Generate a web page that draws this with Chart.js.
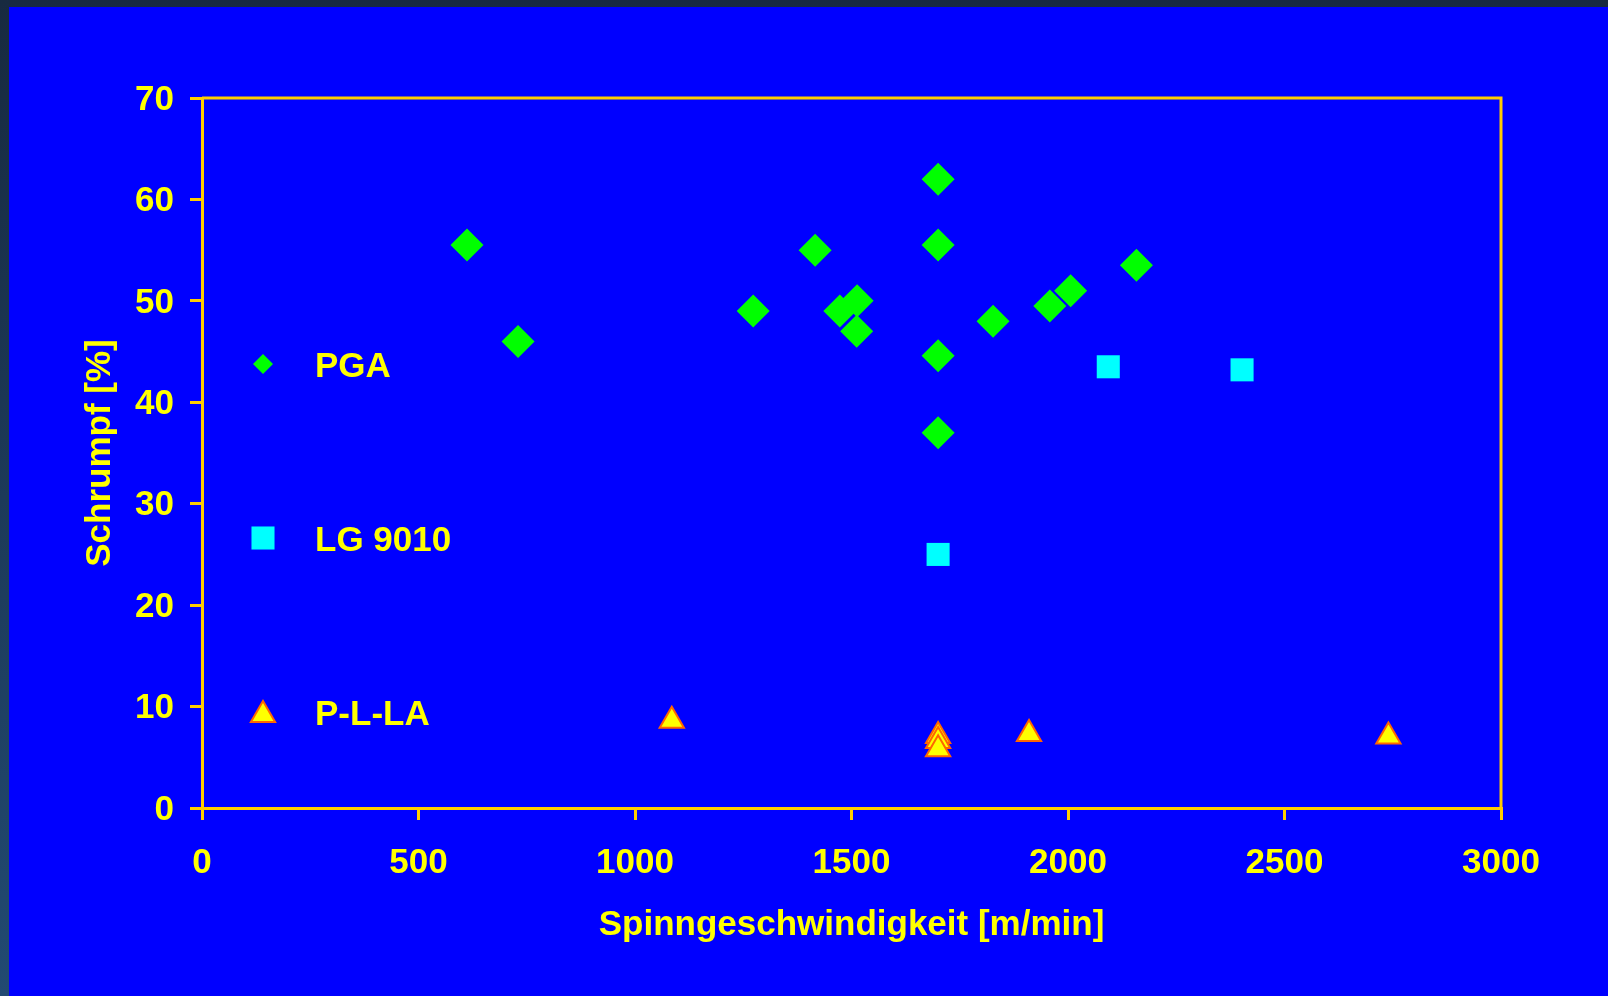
<!DOCTYPE html>
<html>
<head>
<meta charset="utf-8">
<script src="https://cdn.jsdelivr.net/npm/chart.js@4/dist/chart.umd.min.js"></script>
<style>
    html, body {
        margin: 0;
        padding: 0;
        width: 1608px;
        height: 996px;
        overflow: hidden;
        background: linear-gradient(#182a40, #224a72);
    }
    #wrap {
        position: absolute;
        left: 9px;
        top: 7px;
        width: 1599px;
        height: 989px;
        background: #0000ff;
    }
</style>
</head>
<body>
<div id="wrap"><canvas id="chart"></canvas></div>
<script>
// Spinngeschwindigkeit [m/min] / Schrumpf [%]
const pgaX = [612, 730, 1273, 1416, 1473, 1513, 1512, 1700, 1700, 1700, 1700, 1827, 1958, 2006, 2158];
const pgaY = [55.5, 46, 49, 55, 49, 50, 47, 62, 55.5, 44.6, 37, 48, 49.5, 51, 53.5];

const lgX = [1700, 2093, 2402];
const lgY = [25, 43.5, 43.2];

const pllaX = [1085, 1700, 1700, 1700, 1910, 2740];
const pllaY = [8.6, 7.1, 6.6, 5.8, 7.3, 7.05];

const xTicks = [0, 500, 1000, 1500, 2000, 2500, 3000];
const yTicks = [0, 10, 20, 30, 40, 50, 60, 70];

const gold = "#ffcc00";
const yellow = "#ffff00";
const font = { family: "'Liberation Sans', Arial, sans-serif", size: 35, weight: "bold" };

let toPoints = (xs, ys) => xs.map((x, i) => ({ x: x, y: ys[i] }));

// legend drawn inside the plot area, one row per series
const insideLegend = {
    id: "insideLegend",
    afterDraw(chart) {
        const { ctx, chartArea } = chart;
        const rows = [
            { label: "PGA", style: "rectRot", radius: 10, fill: "#00ff00", border: "#00ff00", bw: 0, dy: 266, my: 266 },
            { label: "LG 9010", style: "rect", radius: 16.3, fill: "#00ffff", border: "#00ffff", bw: 0, dy: 440, my: 440 },
            { label: "P-L-LA", style: "triangle", radius: 14, fill: yellow, border: "#ff6600", bw: 2, dy: 614, my: 617 }
        ];
        ctx.save();
        rows.forEach(r => {
            const x = chartArea.left + 61;
            ctx.fillStyle = r.fill;
            ctx.strokeStyle = r.border;
            ctx.lineWidth = r.bw;
            Chart.helpers.drawPoint(ctx, {
                pointStyle: r.style,
                radius: r.radius,
                rotation: 0,
                borderWidth: r.bw
            }, x, chartArea.top + r.my);
            ctx.fillStyle = yellow;
            ctx.font = "bold 35px 'Liberation Sans', Arial, sans-serif";
            ctx.textAlign = "left";
            ctx.textBaseline = "middle";
            ctx.fillText(r.label, x + 52, chartArea.top + r.dy + 3);
        });
        ctx.restore();
    }
};

// top and right edges of the plot frame
const plotFrame = {
    id: "plotFrame",
    beforeDatasetsDraw(chart) {
        const { ctx, chartArea } = chart;
        ctx.save();
        ctx.strokeStyle = gold;
        ctx.lineWidth = 3;
        ctx.beginPath();
        ctx.moveTo(chartArea.left, chartArea.top);
        ctx.lineTo(chartArea.right, chartArea.top);
        ctx.lineTo(chartArea.right, chartArea.bottom);
        ctx.stroke();
        ctx.restore();
    }
};

const chartData = {
    datasets: [
        {
            label: "PGA",
            data: toPoints(pgaX, pgaY),
            pointStyle: "rectRot",
            pointRadius: 16.5,
            backgroundColor: "#00ff00",
            borderColor: "#00ff00",
            borderWidth: 0
        },
        {
            label: "LG 9010",
            data: toPoints(lgX, lgY),
            pointStyle: "rect",
            pointRadius: 16.3,
            backgroundColor: "#00ffff",
            borderColor: "#00ffff",
            borderWidth: 0
        },
        {
            label: "P-L-LA",
            data: toPoints(pllaX, pllaY),
            pointStyle: "triangle",
            pointRadius: 14,
            backgroundColor: yellow,
            borderColor: "#ff6600",
            borderWidth: 2
        }
    ]
};

const chartOptions = {
    responsive: true,
    maintainAspectRatio: false,
    animation: false,
    events: [],
    layout: {
        padding: { left: 0, top: 91, right: 107, bottom: 0 }
    },
    plugins: {
        legend: { display: false },
        tooltip: { enabled: false }
    },
    scales: {
        x: {
            type: "linear",
            min: 0,
            max: 3000,
            afterBuildTicks: axis => { axis.ticks = xTicks.map(v => ({ value: v })); },
            afterFit: axis => { axis.height = 188; },
            ticks: { color: yellow, font: font, padding: 22, maxRotation: 0, callback: v => String(v) },
            grid: { drawOnChartArea: false, drawTicks: true, tickLength: 12, color: gold, lineWidth: 3 },
            border: { display: true, color: gold, width: 3 },
            title: {
                display: true,
                text: "Spinngeschwindigkeit [m/min]",
                color: yellow,
                font: font,
                padding: { top: 0, bottom: 50 }
            }
        },
        y: {
            type: "linear",
            min: 0,
            max: 70,
            afterBuildTicks: axis => { axis.ticks = yTicks.map(v => ({ value: v })); },
            afterFit: axis => { axis.width = 193; },
            ticks: { color: yellow, font: font, padding: 16, labelOffset: 2, callback: v => String(v) },
            grid: { drawOnChartArea: false, drawTicks: true, tickLength: 12, color: gold, lineWidth: 3 },
            border: { display: true, color: gold, width: 3 },
            title: {
                display: true,
                text: "Schrumpf [%]",
                color: yellow,
                font: font,
                padding: { top: 70, bottom: 0 }
            }
        }
    }
};

new Chart(document.getElementById("chart"), {
    type: "scatter",
    data: chartData,
    options: chartOptions,
    plugins: [plotFrame, insideLegend]
});
</script>
</body>
</html>
